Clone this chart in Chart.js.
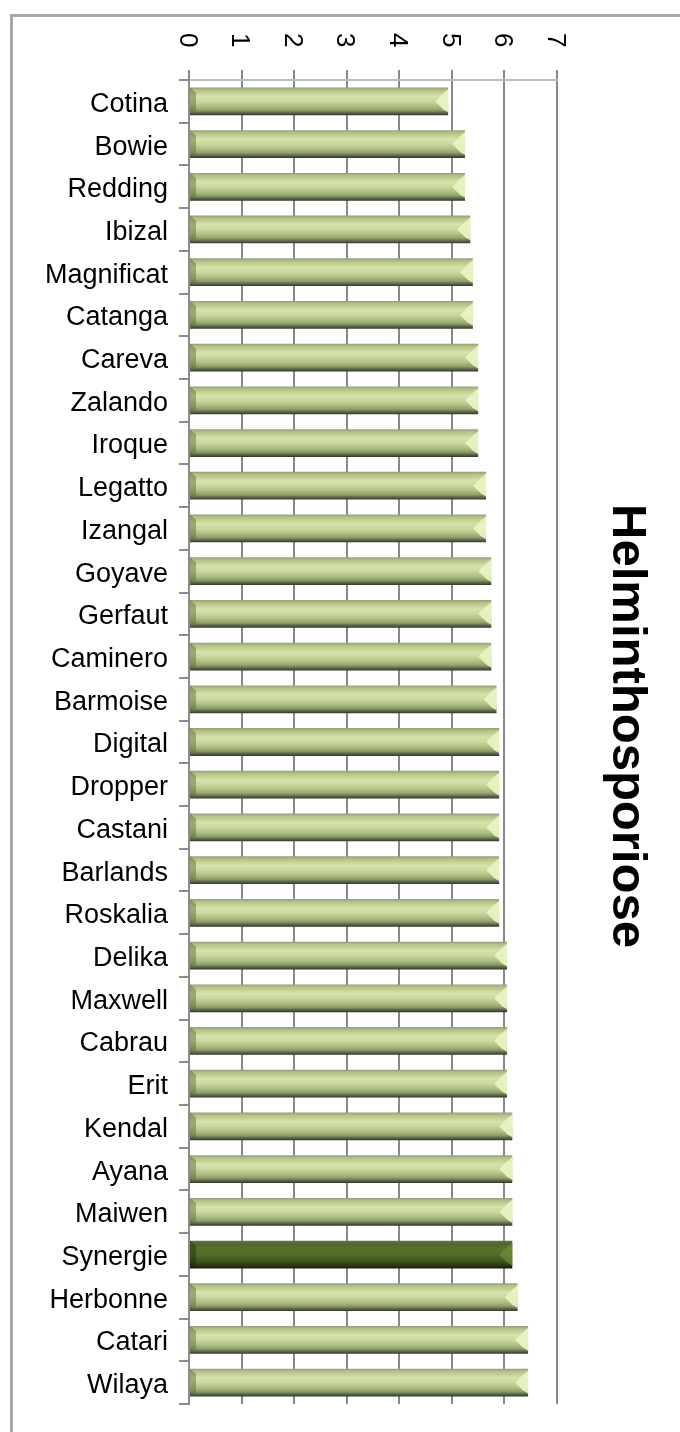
<!DOCTYPE html>
<html>
<head>
<meta charset="utf-8">
<script src="https://cdn.jsdelivr.net/npm/chart.js@4/dist/chart.umd.min.js"></script>
<style>
  html, body { margin: 0; padding: 0; background: #fff; }
  #wrap { position: relative; width: 680px; height: 1432px; overflow: hidden; }
  #frame { position: absolute; left: 10px; top: 14px; width: 720px; height: 1460px;
           border-left: 3px solid #a8a8a8; border-top: 3px solid #a8a8a8; box-sizing: border-box; }
  #c { position: absolute; left: 0; top: 0; }
</style>
</head>
<body>
<div id="wrap">
  <div id="frame"></div>
  <canvas id="c" width="680" height="1432"></canvas>
</div>
<script>
const categories = ['Cotina','Bowie','Redding','Ibizal','Magnificat','Catanga','Careva','Zalando','Iroque','Legatto',
  'Izangal','Goyave','Gerfaut','Caminero','Barmoise','Digital','Dropper','Castani','Barlands','Roskalia',
  'Delika','Maxwell','Cabrau','Erit','Kendal','Ayana','Maiwen','Synergie','Herbonne','Catari','Wilaya'];
const values = [4.93, 5.25, 5.25, 5.35, 5.4, 5.4, 5.5, 5.5, 5.5, 5.65,
  5.65, 5.75, 5.75, 5.75, 5.85, 5.9, 5.9, 5.9, 5.9, 5.9,
  6.05, 6.05, 6.05, 6.05, 6.15, 6.15, 6.15, 6.15, 6.25, 6.45, 6.45];
const xTickLabels = ['0','1','2','3','4','5','6','7'];
const highlightCategory = 'Synergie';
const chartTitle = 'Helminthosporiose';

const FONT = '"Liberation Sans", Arial, sans-serif';
const BAR_FRACTION = 0.65;

function barFill(context) {
  const chart = context.chart;
  const ys = chart.scales && chart.scales.y;
  const dark = categories[context.dataIndex] === highlightCategory;
  if (!ys || !ys.height || context.type !== 'data') return dark ? '#4b5f25' : '#bccb8e';
  const yc = ys.getPixelForValue(context.dataIndex);
  const half = ys.height / categories.length * BAR_FRACTION / 2;
  const g = chart.ctx.createLinearGradient(0, yc - half, 0, yc + half);
  if (dark) {
    g.addColorStop(0, '#66714a');
    g.addColorStop(0.12, '#53662b');
    g.addColorStop(0.35, '#58722c');
    g.addColorStop(0.55, '#4f6826');
    g.addColorStop(0.75, '#3f5418');
    g.addColorStop(0.9, '#29360f');
    g.addColorStop(1, '#161d08');
  } else {
    g.addColorStop(0, '#939e76');
    g.addColorStop(0.1, '#b3c287');
    g.addColorStop(0.33, '#d6e3aa');
    g.addColorStop(0.5, '#c9d89c');
    g.addColorStop(0.68, '#afbf82');
    g.addColorStop(0.82, '#8f9f6a');
    g.addColorStop(0.92, '#58644b');
    g.addColorStop(1, '#2e3724');
  }
  return g;
}

const bevelPlugin = {
  id: 'bevel',
  afterDatasetsDraw(chart) {
    const ctx = chart.ctx;
    chart.getDatasetMeta(0).data.forEach((bar, i) => {
      const p = bar.getProps(['x', 'y', 'base', 'height'], true);
      const top = p.y - p.height / 2, bot = p.y + p.height / 2;
      const dark = categories[i] === highlightCategory;
      ctx.save();
      // left bevel
      ctx.fillStyle = dark ? 'rgba(20,30,5,0.35)' : 'rgba(90,100,60,0.45)';
      ctx.beginPath();
      ctx.moveTo(p.base, top);
      ctx.lineTo(p.base + 6, top + 5);
      ctx.lineTo(p.base + 6, bot - 5);
      ctx.lineTo(p.base, bot);
      ctx.closePath();
      ctx.fill();
      // right chevron
      ctx.fillStyle = dark ? 'rgba(110,140,60,0.75)' : 'rgba(232,242,196,0.95)';
      ctx.beginPath();
      ctx.moveTo(p.x, top + 2);
      ctx.lineTo(p.x, bot - 3);
      ctx.lineTo(p.x - 5, bot - 6);
      ctx.lineTo(p.x - 13, p.y);
      ctx.lineTo(p.x - 5, top + 6);
      ctx.closePath();
      ctx.fill();
      ctx.restore();
    });
  }
};

const labelsPlugin = {
  id: 'rotatedLabels',
  afterDraw(chart) {
    const ctx = chart.ctx;
    const sx = chart.scales.x;
    ctx.save();
    ctx.fillStyle = '#000';
    ctx.textAlign = 'left';
    ctx.textBaseline = 'alphabetic';
    ctx.font = '26px ' + FONT;
    sx.ticks.forEach((t, i) => {
      const px = sx.getPixelForTick(i);
      ctx.save();
      ctx.translate(px - 9.3, 33);
      ctx.rotate(Math.PI / 2);
      ctx.fillText(xTickLabels[i] !== undefined ? xTickLabels[i] : String(t.label), 0, 0);
      ctx.restore();
    });
    // chart title, rotated clockwise on the right
    ctx.font = 'bold 49px ' + FONT;
    ctx.textAlign = 'center';
    ctx.save();
    ctx.translate(613, 726);
    ctx.rotate(Math.PI / 2);
    ctx.fillText(chartTitle, 0, 0);
    ctx.restore();
    ctx.restore();
  }
};

new Chart(document.getElementById('c'), {
  type: 'bar',
  data: {
    labels: categories,
    datasets: [{
      data: values,
      backgroundColor: barFill,
      borderWidth: 0,
      categoryPercentage: 1,
      barPercentage: BAR_FRACTION
    }]
  },
  options: {
    indexAxis: 'y',
    responsive: false,
    animation: false,
    devicePixelRatio: 1,
    layout: { padding: { left: 0, top: 0, right: 123, bottom: 28 } },
    plugins: { legend: { display: false }, tooltip: { enabled: false }, title: { display: false } },
    scales: {
      x: {
        position: 'top',
        min: 0, max: 7,
        ticks: { stepSize: 1, autoSkip: false, minRotation: 90, maxRotation: 90,
                 color: 'rgba(0,0,0,0)', font: { family: FONT, size: 26 },
                 callback: (v, i) => xTickLabels[i] },
        grid: { color: '#888888', lineWidth: 2, drawTicks: true, tickLength: 10, tickColor: '#888888' },
        border: { color: '#bdbdbd', width: 2 },
        afterFit: s => { s.height = 80; }
      },
      y: {
        position: 'left',
        ticks: { color: '#000', font: { family: FONT, size: 27 }, padding: 11, autoSkip: false, labelOffset: 3 },
        grid: { drawOnChartArea: false, drawTicks: true, tickLength: 10, color: '#8c8c8c', lineWidth: 2 },
        border: { color: '#8c8c8c', width: 2 },
        afterFit: s => { s.width = 189; }
      }
    }
  },
  plugins: [bevelPlugin, labelsPlugin]
});
</script>
</body>
</html>
